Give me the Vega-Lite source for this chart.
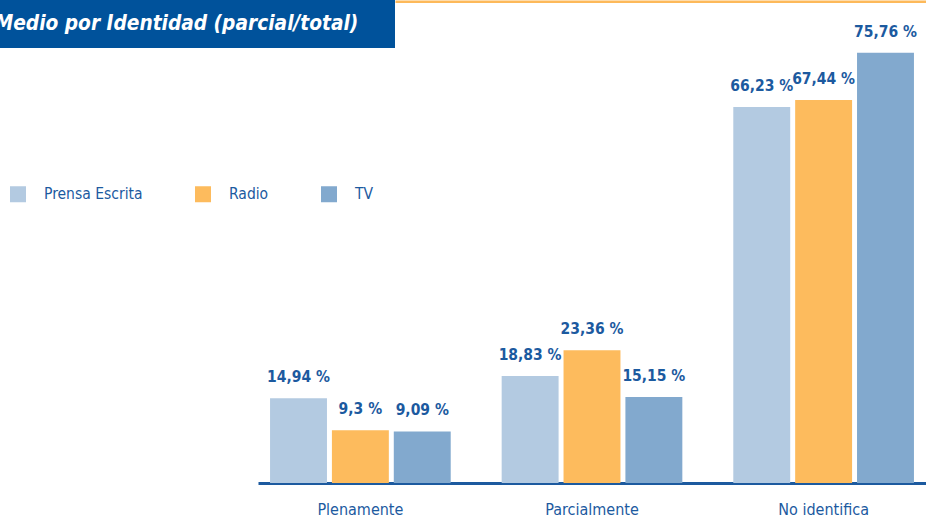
{
  "$schema": "https://vega.github.io/schema/vega-lite/v6.json",
  "padding": 0,
  "spacing": 0,
  "bounds": "flush",
  "config": {
    "view": {"stroke": null},
    "font": "DejaVu Sans Condensed, sans-serif"
  },
  "vconcat": [
    {
      "width": 926,
      "height": 48,
      "layer": [
        {
          "data": {"values": [{"titulo": "Medio por Identidad (parcial/total)"}]},
          "encoding": {
            "x": {
              "field": "titulo",
              "type": "nominal",
              "scale": {"range": [0, 395], "paddingInner": 0, "paddingOuter": 0},
              "axis": null
            },
            "y": {
              "field": "titulo",
              "type": "nominal",
              "scale": {"paddingInner": 0, "paddingOuter": 0},
              "axis": null
            }
          },
          "layer": [
            {"mark": {"type": "rect", "color": "#00529B"}},
            {
              "mark": {
                "type": "text",
                "align": "center",
                "baseline": "middle",
                "dx": -21,
                "clip": true,
                "font": "DejaVu Sans Condensed, sans-serif",
                "fontSize": 20.7,
                "fontWeight": "bold",
                "fontStyle": "italic",
                "color": "#FFFFFF"
              },
              "encoding": {"text": {"field": "titulo"}}
            }
          ]
        },
        {
          "data": {"values": [{"pos": 0}]},
          "mark": "text",
          "encoding": {
            "x": {
              "field": "pos",
              "type": "quantitative",
              "scale": {"range": [395, 926]},
              "axis": {
                "orient": "top",
                "title": null,
                "labels": false,
                "ticks": false,
                "grid": false,
                "domainColor": "#FDB95A",
                "domainWidth": 2.5,
                "offset": -1.25
              }
            },
            "text": {"value": ""}
          }
        }
      ],
      "resolve": {"scale": {"x": "independent", "y": "independent"}, "axis": {"x": "independent"}}
    },
    {
      "width": 926,
      "height": 435,
      "data": {
        "values": [
          {"categoria": "Plenamente", "medio": "Prensa Escrita", "valor": 14.94, "etiqueta": "14,94 %"},
          {"categoria": "Plenamente", "medio": "Radio", "valor": 9.3, "etiqueta": "9,3 %"},
          {"categoria": "Plenamente", "medio": "TV", "valor": 9.09, "etiqueta": "9,09 %"},
          {"categoria": "Parcialmente", "medio": "Prensa Escrita", "valor": 18.83, "etiqueta": "18,83 %"},
          {"categoria": "Parcialmente", "medio": "Radio", "valor": 23.36, "etiqueta": "23,36 %"},
          {"categoria": "Parcialmente", "medio": "TV", "valor": 15.15, "etiqueta": "15,15 %"},
          {"categoria": "No identifica", "medio": "Prensa Escrita", "valor": 66.23, "etiqueta": "66,23 %"},
          {"categoria": "No identifica", "medio": "Radio", "valor": 67.44, "etiqueta": "67,44 %"},
          {"categoria": "No identifica", "medio": "TV", "valor": 75.76, "etiqueta": "75,76 %"}
        ]
      },
      "encoding": {
        "x": {
          "field": "categoria",
          "type": "nominal",
          "sort": ["Plenamente", "Parcialmente", "No identifica"],
          "scale": {"range": [258, 926], "paddingInner": 0.22, "paddingOuter": 0.052},
          "axis": {
            "title": null,
            "labelAngle": 0,
            "ticks": false,
            "domainColor": "#1C5A9F",
            "domainWidth": 3,
            "labelFont": "DejaVu Sans Condensed, sans-serif",
            "labelFontSize": 16,
            "labelColor": "#1C5A9F",
            "labelPadding": 18
          }
        },
        "xOffset": {
          "field": "medio",
          "type": "nominal",
          "sort": ["Prensa Escrita", "Radio", "TV"],
          "scale": {"paddingInner": 0.08, "paddingOuter": 0}
        },
        "y": {
          "field": "valor",
          "type": "quantitative",
          "scale": {"domain": [0, 76.6], "nice": false, "zero": true},
          "axis": null
        }
      },
      "layer": [
        {
          "mark": {"type": "bar"},
          "encoding": {
            "color": {
              "field": "medio",
              "type": "nominal",
              "sort": ["Prensa Escrita", "Radio", "TV"],
              "scale": {
                "domain": ["Prensa Escrita", "Radio", "TV"],
                "range": ["#B3CAE1", "#FDBB5D", "#82A9CE"]
              },
              "legend": {
                "title": null,
                "orient": "none",
                "legendX": 10,
                "legendY": 186,
                "direction": "horizontal",
                "symbolType": "square",
                "symbolSize": 256,
                "symbolStrokeWidth": 0,
                "labelFont": "DejaVu Sans Condensed, sans-serif",
                "labelFontSize": 15.5,
                "labelColor": "#1C5A9F",
                "labelOffset": 18,
                "columnPadding": 52
              }
            }
          }
        },
        {
          "mark": {
            "type": "text",
            "baseline": "alphabetic",
            "dy": -16,
            "font": "DejaVu Sans Condensed, sans-serif",
            "fontSize": 15.5,
            "fontWeight": "bold",
            "color": "#1C5A9F"
          },
          "encoding": {"text": {"field": "etiqueta"}}
        }
      ]
    }
  ]
}
